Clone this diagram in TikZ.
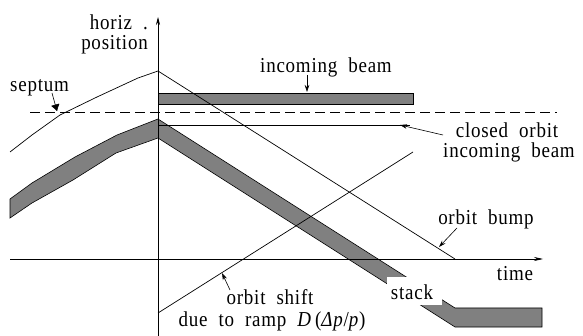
\documentclass[tikz,border=0pt]{standalone}
\usepackage{fontspec}
\usepackage{graphicx}
\setmainfont{Liberation Serif}[LetterSpace=4,WordSpace=2]
\usetikzlibrary{arrows.meta}
\definecolor{bandgray}{RGB}{128,128,128}
\newcommand\tallt[1]{\scalebox{1}[1.12]{#1}}
\begin{document}
\begin{tikzpicture}[x=1pt,y=-1pt,
  lbl/.style={font=\fontsize{19}{20}\selectfont, inner sep=0pt, anchor=base},
  band/.style={fill=bandgray, draw=black, line width=0.6pt},
  ln/.style={line width=0.7pt},
  arr/.style={-{Stealth[length=7pt,width=4.5pt]}, line width=0.6pt}]
\useasboundingbox (0,0) rectangle (583,336);
% circulating beam band
\draw[band] (10,199) -- (32,183) -- (75,157) -- (117,135) -- (158,119) -- (455,308) -- (542,308) -- (542,327) -- (455,327) -- (158,138) -- (116,153) -- (73,180) -- (32,203) -- (10,218) -- cycle;
% incoming beam bar
\draw[band] (158,93) rectangle (413,104);
% stack label with white background
\node[fill=white, inner sep=0pt, minimum width=55pt, minimum height=28pt] (stackbox) at (414.5,291) {};
\node[lbl] (stack) at (412,300) {\tallt{stack}};
% axes
\draw[ln, -{Stealth[length=8pt,width=4pt]}] (158,336) -- (158,17);
\draw[ln, -{Stealth[length=9pt,width=4pt]}] (10,259) -- (543,259);
% orbit bump
\draw[ln] (10,152) -- (32,135) -- (60,115) -- (97,97) -- (138,78) -- (158,71) -- (455,259);
% septum dashed
\draw[ln, dash pattern=on 10pt off 5pt] (30,112) -- (557,112);
% closed orbit
\draw[ln] (158,125) -- (410,125);
% orbit shift
\draw[ln] (158,313) -- (413,152);
% labels
\node[lbl, anchor=base east] (h1) at (148,30) {\tallt{horiz .}};
\node[lbl, anchor=base east] (h2) at (148,50) {\tallt{position}};
\node[lbl, anchor=base west] (sept) at (10,92) {\tallt{septum}};
\node[lbl] (inc) at (326,73) {\tallt{incoming beam}};
\node[lbl] (co) at (507,138) {\tallt{closed orbit}};
\node[lbl] (co2) at (509,158) {\tallt{incoming beam}};
\node[lbl] (ob) at (486,225) {\tallt{orbit bump}};
\node[lbl] (time) at (515,281) {\tallt{time}};
\node[lbl] (os) at (270,305) {\tallt{orbit shift}};
\node[lbl] (os2) at (272,326) {\tallt{due to ramp \textit{D}\,(\textit{Δp}/\textit{p})}};
% arrows
\coordinate (sA) at (52,93); \coordinate (sB) at (57,111);
\draw[line width=0.6pt, -{Latex[length=7pt,width=9pt,round]}] (sA) -- (sB);
\coordinate (iA) at (307,75); \coordinate (iB) at (307,92);
\draw[arr] (iA) -- (iB);
\coordinate (cA) at (443,135); \coordinate (cB) at (400,125);
\draw[arr] (cA) -- (cB);
\coordinate (bA) at (457,228); \coordinate (bB) at (439,247);
\draw[arr] (bA) -- (bB);
\coordinate (oA) at (230,290); \coordinate (oB) at (222,273);
\draw[arr] (oA) -- (oB);
\end{tikzpicture}
\end{document}
